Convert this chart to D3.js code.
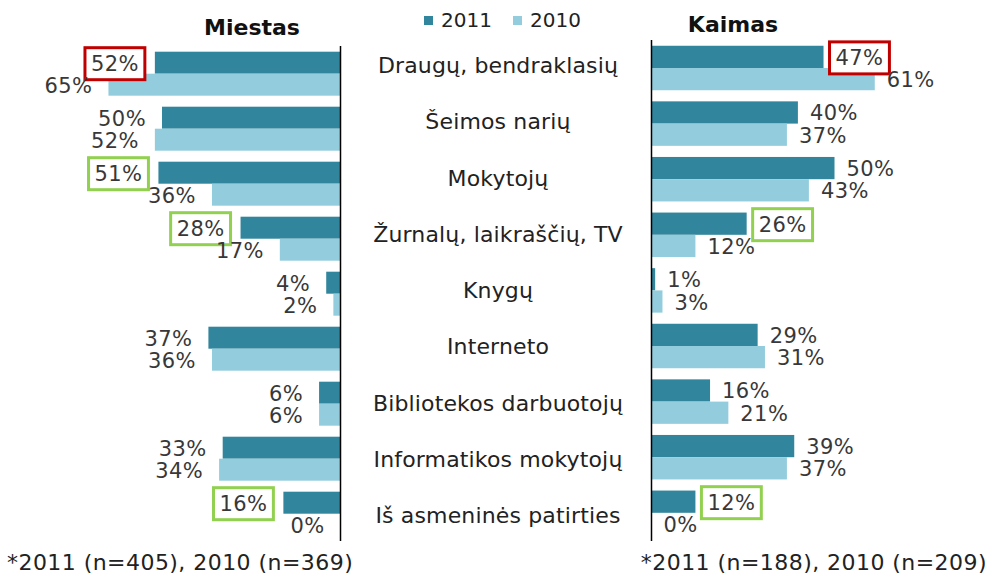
<!DOCTYPE html>
<html>
<head>
<meta charset="utf-8">
<script src="https://cdn.jsdelivr.net/npm/d3@7"></script>
<style>
  body{margin:0;background:#fff;}
  svg{display:block;font-family:"DejaVu Sans",Verdana,sans-serif;}
</style>
</head>
<body>
<svg id="chart" width="992" height="575"></svg>
<script>
/* ---------- data ---------- */
const categories=["Draugų, bendraklasių","Šeimos narių","Mokytojų","Žurnalų, laikraščių, TV",
  "Knygų","Interneto","Bibliotekos darbuotojų","Informatikos mokytojų","Iš asmeninės patirties"];
const years=["2011","2010"];
const miestas2011=[52,50,51,28,4,37,6,33,16];
const miestas2010=[65,52,36,17,2,36,6,34,0];
const kaimas2011=[47,40,50,26,1,29,16,39,12];
const kaimas2010=[61,37,43,12,3,31,21,37,0];
// highlighted 2011 labels (row indexes)
const miestasRed=[0], miestasGreen=[2,3,8];
const kaimasRed=[0],  kaimasGreen=[3,8];
const notes=["*2011 (n=405), 2010 (n=369)","*2011 (n=188), 2010 (n=209)"];

/* ---------- setup ---------- */
const svg=d3.select("#chart");
const col=d3.scaleOrdinal().domain(years).range(["#31859c","#93cddd"]);
const LBL=21;

const panels=[
  {title:"Miestas",v11:miestas2011,v10:miestas2010,red:miestasRed,green:miestasGreen,
   x:d3.scaleLinear().domain([0,100]).range([340.5,-16.5]),dir:-1,
   y:d3.scaleBand().domain(categories).range([46.2,541.2]).paddingInner(0.2).paddingOuter(0.1),
   axisTop:46,titleX:252,titleY:35,note:notes[0],noteX:7,noteAnchor:"start",gap:16},
  {title:"Kaimas",v11:kaimas2011,v10:kaimas2010,red:kaimasRed,green:kaimasGreen,
   x:d3.scaleLinear().domain([0,100]).range([651.5,1017.5]),dir:1,
   y:d3.scaleBand().domain(categories).range([40.2,540.6]).paddingInner(0.2).paddingOuter(0.1),
   axisTop:40,titleX:733,titleY:32,note:notes[1],noteX:987,noteAnchor:"end",gap:12}
];

panels.forEach(p=>{
  const g=svg.append("g");
  const sub=d3.scaleBand().domain(years).range([0,p.y.bandwidth()]);
  const rows=categories.map((c,i)=>({c,i,vals:[{k:"2011",v:p.v11[i]},{k:"2010",v:p.v10[i]}]}));

  const rg=g.selectAll("g.row").data(rows).join("g")
    .attr("transform",d=>`translate(0,${p.y(d.c)})`);

  rg.selectAll("rect").data(d=>d.vals).join("rect")
    .attr("x",d=>Math.min(p.x(0),p.x(d.v)))
    .attr("width",d=>Math.abs(p.x(d.v)-p.x(0)))
    .attr("y",d=>sub(d.k)).attr("height",sub.bandwidth())
    .attr("fill",d=>col(d.k));

  rg.each(function(r){
    d3.select(this).selectAll("text").data(r.vals).join("text")
      .attr("x",d=>p.x(d.v)+p.dir*p.gap)
      .attr("y",d=>sub(d.k)+sub.bandwidth()/2+1)
      .attr("dominant-baseline","central")
      .attr("text-anchor",p.dir<0?"end":"start")
      .attr("font-size",LBL).attr("letter-spacing",0.4).attr("fill","#383838")
      .text(d=>d.v+"%")
      .each(function(d){
        const hl=d.k==="2011"&&(p.red.includes(r.i)?"#c00000":p.green.includes(r.i)?"#92d050":null);
        if(!hl) return;
        const b=this.getBBox();
        d3.select(this.parentNode).insert("rect","text")
          .attr("x",b.x-6).attr("y",sub(d.k)+sub.bandwidth()/2+1-16)
          .attr("width",b.width+12).attr("height",32)
          .attr("fill","#fff").attr("stroke",hl).attr("stroke-width",3);
      });
  });

  // vertical axis
  g.append("line").attr("x1",p.x(0)).attr("x2",p.x(0))
    .attr("y1",p.axisTop).attr("y2",541).attr("stroke","#000").attr("stroke-width",1.5);

  g.append("text").attr("x",p.titleX).attr("y",p.titleY).attr("text-anchor","middle")
    .attr("font-size",22).attr("font-weight","bold").attr("fill","#111").text(p.title);

  g.append("text").attr("x",p.noteX).attr("y",570).attr("text-anchor",p.noteAnchor)
    .attr("font-size",22).attr("letter-spacing",0.45).attr("fill","#222").text(p.note);
});

/* ---------- category labels ---------- */
const cy=d3.scalePoint().domain(categories).range([73,523]);
svg.append("g").selectAll("text").data(categories).join("text")
  .attr("x",498).attr("y",d=>cy(d)).attr("text-anchor","middle")
  .attr("font-size",22).attr("letter-spacing",0.15).attr("fill","#222").text(d=>d);

/* ---------- legend ---------- */
const lx=d3.scaleOrdinal().domain(years).range([424,513]);
const lg=svg.append("g").selectAll("g").data(years).join("g")
  .attr("transform",d=>`translate(${lx(d)},16)`);
lg.append("rect").attr("width",9).attr("height",9).attr("fill",d=>col(d));
lg.append("text").attr("x",17).attr("y",10.5).attr("font-size",20).attr("fill","#222").text(d=>d);
</script>
</body>
</html>
